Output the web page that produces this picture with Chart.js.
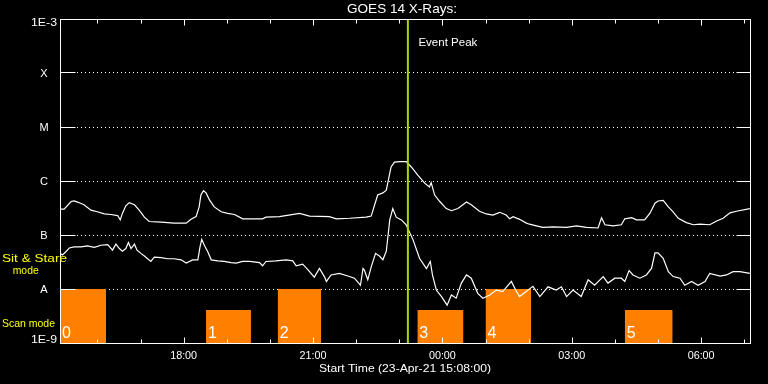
<!DOCTYPE html>
<html><head><meta charset="utf-8">
<script src="https://cdn.jsdelivr.net/npm/chart.js@4/dist/chart.umd.min.js"></script>
<style>html,body{margin:0;padding:0;background:#000;}canvas{display:block;}</style>
</head><body><canvas id="c" width="768" height="384"></canvas>
<script>
// ---- data (time = decimal hours from 23-Apr-21 00:00; flux = log10 W/m^2) ----
const startHour = 15 + 8 / 60;
const endHour = startHour + 16;

const longHours = [15.14,15.23,15.39,15.46,15.54,15.69,15.85,16.00,16.16,16.31,
16.47,16.53,16.58,16.66,16.74,16.86,16.97,17.09,17.20,17.48,
17.78,18.06,18.17,18.29,18.36,18.40,18.46,18.52,18.60,18.71,
18.87,19.02,19.18,19.37,19.83,19.91,20.22,20.69,20.92,21.38,
21.54,21.85,22.23,22.35,22.43,22.50,22.62,22.70,22.74,22.81,
22.89,23.01,23.16,23.28,23.43,23.59,23.70,23.74,23.82,23.94,
24.09,24.21,24.36,24.56,24.67,24.86,25.02,25.17,25.33,25.48,
25.56,25.64,25.79,25.95,26.02,26.18,26.33,26.57,26.88,27.11,
27.34,27.61,27.69,27.77,27.96,28.15,28.23,28.39,28.50,28.69,
28.81,28.93,29.00,29.12,29.24,29.35,29.47,29.66,29.82,29.97,
30.20,30.36,30.51,30.67,30.82,31.13];
const longLog = [-6.52,-6.52,-6.38,-6.37,-6.39,-6.44,-6.54,-6.57,-6.61,-6.62,
-6.64,-6.72,-6.60,-6.46,-6.40,-6.44,-6.54,-6.67,-6.75,-6.76,
-6.78,-6.78,-6.71,-6.66,-6.48,-6.26,-6.18,-6.22,-6.35,-6.48,
-6.57,-6.60,-6.62,-6.70,-6.70,-6.67,-6.66,-6.60,-6.65,-6.66,
-6.70,-6.69,-6.67,-6.65,-6.44,-6.26,-6.22,-6.17,-6.01,-5.74,
-5.65,-5.64,-5.64,-5.74,-5.89,-6.04,-6.11,-6.03,-6.26,-6.38,
-6.51,-6.55,-6.51,-6.39,-6.44,-6.56,-6.61,-6.63,-6.58,-6.63,
-6.70,-6.66,-6.71,-6.78,-6.80,-6.83,-6.86,-6.85,-6.86,-6.83,
-6.86,-6.87,-6.68,-6.81,-6.83,-6.81,-6.70,-6.68,-6.72,-6.72,
-6.60,-6.41,-6.37,-6.36,-6.48,-6.57,-6.69,-6.77,-6.81,-6.80,
-6.81,-6.74,-6.69,-6.59,-6.56,-6.51];

const shortHours = [15.14,15.19,15.27,15.35,15.46,15.62,15.77,15.93,16.08,16.24,
16.35,16.43,16.51,16.58,16.66,16.72,16.78,16.86,16.92,17.01,
17.09,17.24,17.32,17.48,17.63,17.78,17.94,18.06,18.21,18.33,
18.38,18.42,18.48,18.56,18.64,18.79,18.94,19.10,19.22,19.37,
19.53,19.76,19.83,19.91,20.14,20.38,20.53,20.61,20.76,20.88,
21.03,21.15,21.27,21.31,21.42,21.61,21.81,21.96,22.10,22.16,
22.19,22.27,22.35,22.45,22.54,22.62,22.70,22.78,22.85,22.93,
23.05,23.16,23.32,23.47,23.63,23.72,23.77,23.86,23.98,24.11,
24.21,24.32,24.44,24.56,24.67,24.82,24.94,25.10,25.25,25.40,
25.60,25.72,25.79,26.10,26.26,26.45,26.64,26.76,26.88,27.03,
27.22,27.38,27.53,27.73,27.84,28.00,28.15,28.23,28.33,28.42,
28.58,28.73,28.85,28.93,29.00,29.12,29.24,29.35,29.51,29.62,
29.78,29.93,30.09,30.20,30.44,30.59,30.74,30.90,31.13];
const shortLog = [-7.34,-7.37,-7.31,-7.24,-7.22,-7.22,-7.20,-7.23,-7.19,-7.18,
-7.28,-7.17,-7.25,-7.30,-7.25,-7.14,-7.25,-7.17,-7.28,-7.34,
-7.39,-7.49,-7.41,-7.42,-7.44,-7.44,-7.46,-7.52,-7.46,-7.46,
-7.22,-7.08,-7.19,-7.31,-7.46,-7.48,-7.49,-7.51,-7.52,-7.49,
-7.49,-7.51,-7.57,-7.49,-7.48,-7.46,-7.48,-7.57,-7.54,-7.64,
-7.78,-7.62,-7.78,-7.86,-7.74,-7.71,-7.76,-7.80,-7.93,-7.62,
-7.65,-7.83,-7.59,-7.34,-7.39,-7.46,-7.30,-6.72,-6.51,-6.67,
-6.72,-6.81,-7.09,-7.43,-7.62,-7.49,-7.74,-8.02,-8.14,-8.30,
-8.11,-8.17,-7.89,-7.74,-7.80,-8.08,-8.17,-8.11,-8.02,-8.05,
-7.86,-8.05,-8.14,-7.95,-8.14,-7.96,-8.02,-7.96,-8.14,-8.02,
-8.14,-7.83,-7.93,-7.77,-7.89,-7.80,-7.80,-7.86,-7.66,-7.74,
-7.80,-7.74,-7.62,-7.33,-7.33,-7.43,-7.68,-7.77,-7.80,-7.93,
-7.86,-7.93,-7.86,-7.71,-7.76,-7.74,-7.68,-7.68,-7.71];

const scanStart = [15.1333, 18.52, 20.18, 23.42, 25.00, 28.23];
const scanEnd   = [16.20, 19.56, 21.19, 24.49, 26.06, 29.34];
const scanTop   = [-8, -8.39, -8, -8.39, -8, -8.39];
const scanLabels = ['0', '1', '2', '3', '4', '5'];

const eventPeakHour = 23.20;

const levelValues = [-3, -4, -5, -6, -7, -8, -9];
const levelLabels = ['1E-3', 'X', 'M', 'C', 'B', 'A', '1E-9'];
const xTickHours  = [18, 21, 24, 27, 30];
const xTickLabels = ['18:00', '21:00', '00:00', '03:00', '06:00'];

// ---- drawing helpers ----
const FAM = '"Liberation Sans", Arial, sans-serif';
function drawText(ctx, s, x, y, size, color, align, width) {
  ctx.save();
  ctx.font = size + 'px ' + FAM;
  ctx.fillStyle = color;
  ctx.textBaseline = 'middle';
  ctx.textAlign = 'left';
  const m = ctx.measureText(s).width;
  const sx = width ? width / m : 1;
  const w = m * sx;
  const x0 = align === 'center' ? x - w / 2 : align === 'right' ? x - w : x;
  ctx.translate(x0, y);
  ctx.scale(sx, 1);
  ctx.fillText(s, 0, 0);
  ctx.restore();
}

const overlay = {
  id: 'overlay',
  beforeDatasetsDraw(chart) {
    const { ctx, chartArea: a, scales: { y } } = chart;
    ctx.save();
    ctx.strokeStyle = '#fff';
    ctx.lineWidth = 1;
    ctx.setLineDash([1, 3]);
    levelValues.forEach(v => {
      if (v === -3 || v === -9) return;
      const py = Math.floor(y.getPixelForValue(v)) + 0.5;
      ctx.beginPath();
      ctx.moveTo(a.left + 17, py);
      ctx.lineTo(a.right - 14, py);
      ctx.stroke();
    });
    ctx.restore();
  },
  afterDatasetsDraw(chart) {
    const { ctx, chartArea: a, scales: { x, y } } = chart;
    const L = Math.floor(a.left) + 0.5, R = Math.floor(a.right) + 0.5;
    const T = Math.floor(a.top) + 0.5, B = Math.floor(a.bottom) + 0.5;
    ctx.save();
    ctx.strokeStyle = '#fff';
    ctx.lineWidth = 1;
    ctx.strokeRect(L, T, R - L, B - T);
    levelValues.forEach(v => {
      const py = Math.floor(y.getPixelForValue(v)) + 0.5;
      ctx.beginPath();
      ctx.moveTo(L, py); ctx.lineTo(L + 15, py);
      ctx.moveTo(R - 14, py); ctx.lineTo(R, py);
      ctx.stroke();
    });
    for (let h = Math.ceil(startHour); h <= Math.floor(endHour); h++) {
      const px = Math.round(x.getPixelForValue(h)) + 0.5;
      const len = h % 3 === 0 ? 6 : 4;
      ctx.beginPath();
      ctx.moveTo(px, B); ctx.lineTo(px, B - len);
      ctx.moveTo(px, T); ctx.lineTo(px, T + len);
      ctx.stroke();
    }
    ctx.restore();

    levelValues.forEach((v, i) => {
      let py = y.getPixelForValue(v) + 0.7;
      const s = levelLabels[i];
      if (s.length > 1) {
        py = Math.min(Math.max(py, a.top + 4), a.bottom - 3);
        drawText(ctx, s, a.left - 3, py, 11, '#fff', 'right', 26);
      } else {
        drawText(ctx, s, a.left - 16, py, 11, '#fff', 'center');
      }
    });
    xTickHours.forEach((h, i) => {
      drawText(ctx, xTickLabels[i], x.getPixelForValue(h), 355.5, 11, '#fff', 'center', 27);
    });
    drawText(ctx, 'GOES 14 X-Rays:', (a.left + a.right) / 2 - 3, 9.8, 13, '#fff', 'center', 110);
    drawText(ctx, 'Start Time (23-Apr-21 15:08:00)', (a.left + a.right) / 2, 368.5, 11, '#fff', 'center', 172);
    drawText(ctx, 'Event Peak', x.getPixelForValue(eventPeakHour) + 10.5, 43.3, 11, '#fff', 'left', 59);
    drawText(ctx, 'Sit & Stare', 2, 259, 11.5, '#ffff00', 'left', 65);
    drawText(ctx, 'mode', 12.7, 271.3, 11.5, '#ffff00', 'left', 26);
    drawText(ctx, 'Scan mode', 2, 323.5, 11.5, '#ffff00', 'left', 53);
    scanStart.forEach((s, i) => {
      drawText(ctx, scanLabels[i], x.getPixelForValue(s) + 2, 333.5, 16, '#fff', 'left');
    });
  }
};

const datasets = [];
datasets.push({
  data: [{ x: eventPeakHour, y: -9 }, { x: eventPeakHour, y: -3 }],
  borderColor: '#a8d800', borderWidth: 2, pointRadius: 0, order: 0
});
datasets.push({
  data: longHours.map((h, i) => ({ x: h, y: longLog[i] })),
  borderColor: '#ffffff', borderWidth: 1.2, pointRadius: 0, order: 1
});
datasets.push({
  data: shortHours.map((h, i) => ({ x: h, y: shortLog[i] })),
  borderColor: '#ffffff', borderWidth: 1.2, pointRadius: 0, order: 2
});
scanStart.forEach((s, i) => {
  datasets.push({
    data: [{ x: s, y: scanTop[i] }, { x: scanEnd[i], y: scanTop[i] }],
    borderColor: 'rgba(0,0,0,0)', borderWidth: 1, pointRadius: 0,
    backgroundColor: '#ff8000', fill: 'start', order: 3
  });
});

new Chart(document.getElementById('c'), {
  type: 'line',
  data: { datasets },
  options: {
    responsive: false,
    animation: false,
    devicePixelRatio: 1,
    events: [],
    layout: { padding: { left: 60, right: 18, top: 19, bottom: 41 } },
    elements: { line: { tension: 0 } },
    scales: {
      x: { type: 'linear', min: startHour, max: endHour, display: false },
      y: { type: 'linear', min: -9, max: -3, display: false }
    },
    plugins: { legend: { display: false }, tooltip: { enabled: false } }
  },
  plugins: [overlay]
});
</script>
</body></html>
